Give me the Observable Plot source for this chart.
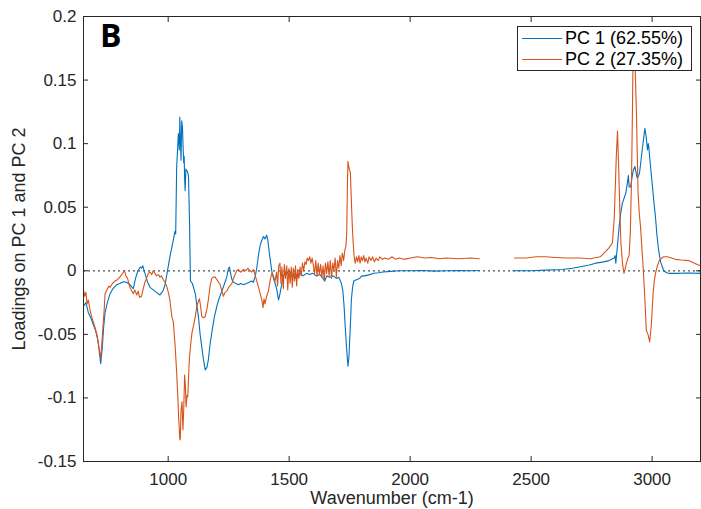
<!DOCTYPE html>
<html><head><meta charset="utf-8">
<script src="https://cdn.jsdelivr.net/npm/d3@7"></script>
<script src="https://cdn.jsdelivr.net/npm/@observablehq/plot@0.6"></script>
<style>
body{margin:0;background:#fff}
#wrap{position:relative;width:701px;height:509px;overflow:hidden;background:#fff}
#letter{position:absolute;left:100px;top:19px;font:bold 32px/32px "Open Sans",sans-serif;color:#000}
#legend{position:absolute;left:517px;top:26px;width:173px;height:42px;border:1px solid #262626;background:#fff;padding-top:1px;box-sizing:content-box}
.row{display:flex;align-items:center;height:21px;font:18px/21px "Liberation Sans",Arial,sans-serif;color:#000}
.row span.sw{display:inline-block;width:40px;height:0;border-top:1px solid;margin-left:4px;margin-right:3px}
</style>
</head><body><div id="wrap"></div>
<script>
const seriesNames = ["PC 1 (62.55%)", "PC 2 (27.35%)"];
const seriesColors = ["#0072BD", "#D95319"];
const panelLetter = "B";
const xLabel = "Wavenumber (cm-1)";
const yLabel = "Loadings on PC 1 and PC 2";
const xTicks = [1000, 1500, 2000, 2500, 3000];
const yTicks = [-0.15, -0.1, -0.05, 0, 0.05, 0.1, 0.15, 0.2];

const pc1Wavenumber = [650,660,670,680,690,700,710,716,721,727,733,739,750,760,772,787,800,815,828,842,856,865,875,885,890,895,904,915,925,945,966,978,987,997,1007,1021,1028,1031,1035,1040,1042,1046,1048,1051,1053,1056,1059,1062,1064,1066,1068,1070,1073,1076,1080,1084,1088,1092,1100,1112,1125,1132,1139,1146,1153,1160,1166,1173,1180,1190,1201,1210,1222,1233,1242,1248,1253,1258,1262,1269,1276,1290,1300,1311,1324,1335,1345,1352,1360,1366,1373,1380,1387,1394,1400,1407,1412,1418,1428,1435,1442,1448,1456,1462,1470,1476,1483,1490,1497,1504,1511,1517,1524,1531,1538,1545,1558,1572,1585,1598,1612,1627,1640,1647,1655,1668,1682,1695,1705,1716,1722,1727,1732,1737,1743,1747,1750,1754,1757,1762,1767,1778,1791,1800,1812,1833,1850,1870,1887,1920,1955,2000,2050,2100,2150,2200,2250,2286,2350,2425,2500,2560,2630,2670,2699,2740,2767,2800,2822,2843,2847,2850,2857,2864,2870,2877,2884,2891,2897,2902,2905,2907,2911,2915,2922,2929,2933,2938,2943,2948,2953,2959,2965,2970,2975,2981,2984,2986,2993,3000,3007,3014,3020,3027,3035,3048,3060,3069,3100,3150,3200];
const pc1Loading = [-0.028,-0.025,-0.033,-0.037,-0.042,-0.047,-0.055,-0.065,-0.073,-0.062,-0.045,-0.033,-0.024,-0.018,-0.014,-0.011,-0.010,-0.0086,-0.009,-0.011,-0.014,-0.006,0.000,0.003,0.002,0.004,-0.002,-0.009,-0.013,-0.016,-0.019,-0.016,-0.011,0.000,0.011,0.024,0.031,0.029,0.081,0.100,0.108,0.095,0.121,0.100,0.087,0.118,0.113,0.095,0.085,0.090,0.072,0.063,0.080,0.079,0.078,0.074,0.040,-0.008,-0.010,-0.018,-0.036,-0.050,-0.060,-0.070,-0.078,-0.076,-0.070,-0.058,-0.049,-0.037,-0.028,-0.022,-0.016,-0.010,-0.005,0.001,0.003,-0.002,-0.006,-0.009,-0.0097,-0.011,-0.010,-0.011,-0.010,-0.009,-0.008,-0.009,-0.004,0.002,0.012,0.020,0.024,0.027,0.025,0.028,0.024,0.014,0.000,-0.006,-0.010,-0.014,-0.023,-0.018,-0.010,-0.004,-0.002,-0.003,0.000,-0.001,-0.004,-0.003,-0.006,-0.003,-0.005,-0.002,-0.004,-0.002,-0.003,-0.002,-0.004,-0.003,-0.006,-0.008,-0.004,-0.005,-0.004,-0.006,-0.005,-0.010,-0.016,-0.028,-0.045,-0.060,-0.075,-0.068,-0.055,-0.038,-0.023,-0.013,-0.008,-0.007,-0.006,-0.004,-0.004,-0.003,-0.002,-0.0015,-0.001,-0.0005,0,0,0.0002,-0.0003,0,0.0002,0,0.0002,NaN,0,0,0.0005,0.001,0.002,0.003,0.0045,0.006,0.007,0.008,0.010,0.012,0.006,0.020,0.035,0.045,0.053,0.057,0.061,0.068,0.075,0.066,0.066,0.066,0.071,0.079,0.082,0.078,0.073,0.074,0.077,0.085,0.095,0.104,0.112,0.106,0.095,0.100,0.098,0.083,0.069,0.055,0.042,0.028,0.016,0.007,0.000,-0.0015,-0.002,-0.002,-0.0018,-0.002];

const pc2Wavenumber = [650,655,660,665,670,677,685,692,698,705,712,718,721,725,730,735,739,747,755,760,770,780,787,795,800,808,815,820,825,832,842,850,856,862,870,876,882,890,897,904,912,918,925,932,938,945,952,960,966,972,980,987,995,1002,1007,1015,1021,1029,1035,1040,1043,1048,1050,1053,1057,1061,1064,1068,1071,1074,1078,1081,1085,1088,1093,1098,1105,1112,1118,1125,1129,1134,1139,1146,1153,1160,1166,1173,1180,1187,1194,1205,1215,1222,1228,1235,1242,1250,1263,1272,1283,1290,1300,1311,1320,1330,1338,1345,1352,1359,1366,1373,1380,1387,1392,1396,1400,1407,1414,1421,1428,1435,1442,1448,1452,1457,1462,1466,1470,1476,1480,1485,1490,1494,1499,1504,1509,1513,1517,1522,1526,1531,1535,1540,1545,1550,1555,1560,1565,1570,1575,1580,1585,1590,1595,1600,1605,1610,1615,1620,1625,1630,1635,1640,1645,1650,1655,1660,1665,1670,1675,1680,1685,1690,1695,1700,1705,1710,1715,1720,1725,1730,1735,1738,1741,1743,1746,1750,1753,1757,1761,1764,1768,1773,1778,1783,1788,1793,1798,1803,1808,1813,1818,1825,1830,1838,1845,1852,1860,1868,1875,1885,1895,1910,1925,1940,1955,1975,2000,2030,2060,2090,2120,2150,2200,2250,2286,2350,2431,2480,2520,2560,2600,2650,2699,2745,2786,2807,2822,2836,2843,2847,2852,2857,2862,2867,2871,2878,2884,2889,2894,2900,2905,2910,2915,2919,2922,2925,2929,2935,2942,2947,2952,2957,2962,2969,2976,2983,2990,2997,3004,3009,3014,3022,3030,3040,3048,3062,3080,3096,3120,3151,3175,3192,3200];
const pc2Loading = [-0.015,-0.020,-0.017,-0.026,-0.023,-0.031,-0.037,-0.041,-0.045,-0.050,-0.058,-0.065,-0.069,-0.060,-0.045,-0.032,-0.018,-0.015,-0.012,-0.013,-0.010,-0.008,-0.0075,-0.006,-0.005,-0.003,-0.001,0.000,-0.004,-0.006,-0.013,-0.016,-0.018,-0.015,-0.019,-0.016,-0.021,-0.020,-0.014,-0.009,-0.005,-0.002,-0.001,-0.003,0.000,-0.002,-0.004,-0.003,-0.005,-0.004,-0.007,-0.009,-0.013,-0.018,-0.023,-0.036,-0.040,-0.060,-0.080,-0.100,-0.115,-0.132,-0.133,-0.110,-0.103,-0.125,-0.110,-0.082,-0.090,-0.107,-0.098,-0.099,-0.080,-0.068,-0.058,-0.049,-0.043,-0.036,-0.028,-0.024,-0.022,-0.028,-0.036,-0.037,-0.036,-0.030,-0.023,-0.012,-0.006,-0.005,-0.005,-0.008,-0.011,-0.016,-0.020,-0.017,-0.016,-0.013,-0.010,-0.005,0.000,0.001,-0.001,0.001,0.000,0.002,0.000,-0.001,0.001,-0.003,-0.008,-0.0125,-0.018,-0.023,-0.029,-0.022,-0.026,-0.020,-0.016,-0.008,-0.002,-0.004,-0.008,-0.001,-0.012,0.004,0.006,-0.010,0.003,-0.014,0.005,-0.006,0.004,-0.015,0.002,-0.010,0.003,-0.013,0.002,-0.008,0.004,-0.012,0.001,-0.006,0.003,-0.004,0.006,0.000,0.007,0.005,0.010,0.008,0.011,0.006,0.010,0.004,-0.002,0.008,-0.004,0.006,-0.003,0.005,-0.005,0.004,-0.008,0.006,-0.002,0.007,-0.004,0.008,-0.006,0.006,0.000,0.010,-0.005,0.008,0.002,0.012,0.004,0.014,0.008,0.016,0.020,0.030,0.070,0.086,0.082,0.079,0.077,0.055,0.035,0.024,0.012,0.006,0.011,0.007,0.012,0.006,0.011,0.008,0.012,0.007,0.010,0.006,0.011,0.008,0.011,0.007,0.010,0.008,0.011,0.009,0.010,0.009,0.011,0.009,0.010,0.009,0.010,0.011,0.010,0.0105,0.0095,0.010,0.0095,0.010,0.0095,NaN,0.010,0.010,0.011,0.011,0.0105,0.010,0.010,0.0095,0.011,0.015,0.018,0.022,0.040,0.061,0.090,0.110,0.080,0.045,0.022,0.005,-0.002,0.002,0.006,0.010,0.012,0.030,0.073,0.130,0.179,0.190,0.165,0.126,0.061,0.045,0.035,0.020,0.006,-0.018,-0.047,-0.050,-0.056,-0.042,-0.018,-0.008,-0.002,0.004,0.008,0.010,0.011,0.011,0.010,0.009,0.0085,0.008,0.006,0.0045,0.004];

const pc1Rows = pc1Wavenumber.map((w, i) => ({w, v: pc1Loading[i]}));
const pc2Rows = pc2Wavenumber.map((w, i) => ({w, v: pc2Loading[i]}));
const yFmt = d => String(Math.round(d * 100) / 100);

const chart = Plot.plot({
  width: 701, height: 509,
  marginLeft: 83, marginRight: 1, marginTop: 16, marginBottom: 48,
  x: {domain: [650, 3200]},
  y: {domain: [-0.15, 0.2]},
  style: {fontFamily: '"Liberation Sans", Arial, sans-serif', fontSize: "17px", color: "#262626", background: "white", overflow: "visible"},
  marks: [
    Plot.ruleY([0], {stroke: "#505050", strokeDasharray: "2,3", strokeWidth: 1.2}),
    Plot.line(pc1Rows, {x: "w", y: "v", stroke: seriesColors[0], strokeWidth: 1.1}),
    Plot.line(pc2Rows, {x: "w", y: "v", stroke: seriesColors[1], strokeWidth: 1.1}),
    Plot.frame({stroke: "#262626"}),
    Plot.axisX(xTicks, {tickSize: -5, tickPadding: 16, tickFormat: d => String(d), label: null, fontSize: 17}),
    Plot.axisX(xTicks, {anchor: "top", tickSize: -5, tickFormat: () => "", label: null}),
    Plot.axisY(yTicks, {tickSize: -5, tickPadding: 12, tickFormat: yFmt, label: null, fontSize: 17}),
    Plot.axisY(yTicks, {anchor: "right", tickSize: -5, tickFormat: () => "", label: null}),
    Plot.axisX([], {label: xLabel, labelAnchor: "center", labelOffset: 42, labelArrow: "none", fontSize: 18, tickSize: 0}),
    Plot.axisY([], {label: yLabel, labelAnchor: "center", labelOffset: 71, labelArrow: "none", fontSize: 18, tickSize: 0})
  ]
});

const wrap = document.getElementById("wrap");
wrap.appendChild(chart);
const letter = document.createElement("div");
letter.id = "letter"; letter.textContent = panelLetter;
wrap.appendChild(letter);
const legend = document.createElement("div");
legend.id = "legend";
seriesNames.forEach((name, i) => {
  const row = document.createElement("div");
  row.className = "row";
  const sw = document.createElement("span");
  sw.className = "sw"; sw.style.borderTopColor = seriesColors[i];
  const t = document.createElement("span");
  t.textContent = name;
  row.appendChild(sw); row.appendChild(t);
  legend.appendChild(row);
});
wrap.appendChild(legend);
</script>
</body></html>
